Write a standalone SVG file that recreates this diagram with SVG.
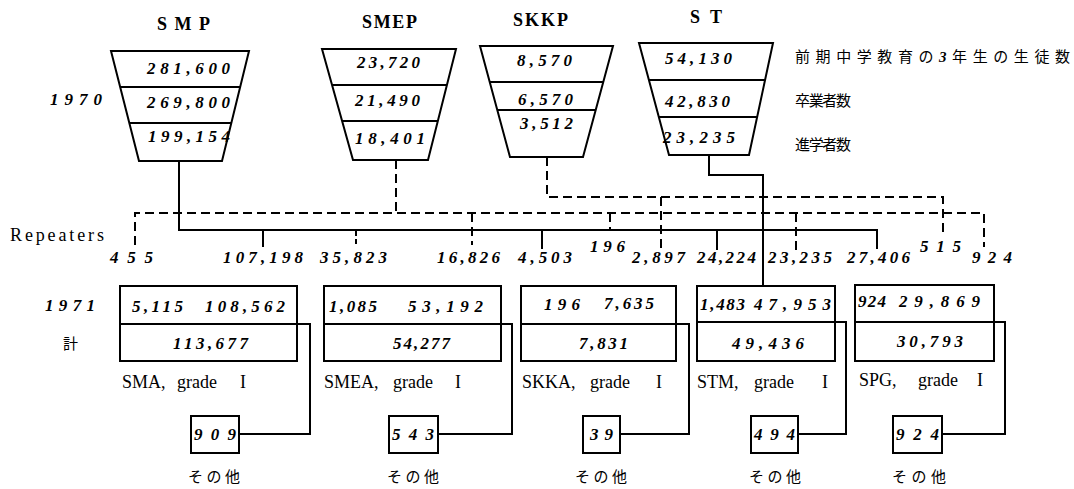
<svg xmlns="http://www.w3.org/2000/svg" width="1074" height="489" viewBox="0 0 1074 489">
<style>
.shape{fill:none;stroke:#000;stroke-width:2}
.line{fill:none;stroke:#000;stroke-width:2}
.dash{fill:none;stroke:#000;stroke-width:2;stroke-dasharray:9 5}
.num{font-family:"Liberation Serif",serif;font-style:italic;font-weight:bold;font-size:17px;fill:#000}
.title{font-family:"Liberation Serif",serif;font-weight:bold;font-size:18px;fill:#000}
.lab{font-family:"Liberation Serif",serif;font-size:18px;fill:#000}
.jp{font-family:"Noto Sans CJK JP",sans-serif;font-size:15px;fill:#000}
</style>
<rect x="0" y="0" width="1074" height="489" fill="#fff"/>

<g id="legend">
<text class="jp" x="795" y="62" textLength="275" lengthAdjust="spacing">前期中学教育の<tspan font-family="Liberation Serif" font-style="italic" font-weight="bold">3</tspan>年生の生徒数</text>
<text class="jp" x="795" y="106" textLength="56" lengthAdjust="spacing">卒業者数</text>
<text class="jp" x="795" y="150" textLength="56" lengthAdjust="spacing">進学者数</text>
<text class="num" x="50" y="105" textLength="52" lengthAdjust="spacing">1970</text>
<text class="lab" x="10" y="241" textLength="94" lengthAdjust="spacing">Repeaters</text>
<text class="num" x="45" y="311" textLength="50" lengthAdjust="spacing">1971</text>
<text class="jp" x="63" y="349">計</text>
</g>

<g id="SMP">
<text class="title" x="157" y="30" textLength="53" lengthAdjust="spacing">SMP</text>
<polygon class="shape" points="111,51 249,51 222,161 139,161"/>
<line class="shape" x1="120.2" y1="87" x2="240.2" y2="87"/>
<line class="shape" x1="129.3" y1="123" x2="231.3" y2="123"/>
<text class="num" x="147" y="74" textLength="83" lengthAdjust="spacing">281,600</text>
<text class="num" x="147" y="108" textLength="83" lengthAdjust="spacing">269,800</text>
<text class="num" x="148" y="142" textLength="82" lengthAdjust="spacing">199,154</text>
</g>

<g id="SMEP">
<text class="title" x="362" y="28" textLength="55" lengthAdjust="spacing">SMEP</text>
<polygon class="shape" points="322,49 456,49 428,160 353,160"/>
<line class="shape" x1="332.1" y1="85" x2="446.9" y2="85"/>
<line class="shape" x1="342.1" y1="121" x2="437.8" y2="121"/>
<text class="num" x="357" y="68" textLength="63" lengthAdjust="spacing">23,720</text>
<text class="num" x="355" y="106" textLength="65" lengthAdjust="spacing">21,490</text>
<text class="num" x="355" y="144" textLength="70" lengthAdjust="spacing">18,401</text>
</g>

<g id="SKKP">
<text class="title" x="513" y="26" textLength="55" lengthAdjust="spacing">SKKP</text>
<polygon class="shape" points="480,46 613,46 583,157 510,157"/>
<line class="shape" x1="489.7" y1="82" x2="603.3" y2="82"/>
<line class="shape" x1="497.3" y1="110" x2="595.7" y2="110"/>
<text class="num" x="517" y="66" textLength="55" lengthAdjust="spacing">8,570</text>
<text class="num" x="518" y="105" textLength="55" lengthAdjust="spacing">6,570</text>
<text class="num" x="520" y="129" textLength="53" lengthAdjust="spacing">3,512</text>
</g>

<g id="ST">
<text class="title" x="690" y="23" textLength="32" lengthAdjust="spacing">ST</text>
<polygon class="shape" points="639,43 773,43 749,155 669,155"/>
<line class="shape" x1="648.9" y1="80" x2="765.1" y2="80"/>
<line class="shape" x1="658.8" y1="117" x2="757.1" y2="117"/>
<text class="num" x="665" y="64" textLength="67" lengthAdjust="spacing">54,130</text>
<text class="num" x="665" y="107" textLength="65" lengthAdjust="spacing">42,830</text>
<text class="num" x="663" y="143" textLength="72" lengthAdjust="spacing">23,235</text>
</g>

<g id="connectors">
<path class="line" d="M179,161 V230 H877 V249 M263,230 V247 M542,230 V249 M717,230 V250 M709,155 V175 H763 V286"/>
<path class="dash" d="M396,160 V213 M135,245 V213 H984 V247 M472,213 V245 M610,213 V230 M796,213 V250 M547,157 V197 H943 V237 M661,197 V250"/>
<path class="line" style="stroke-dasharray:5 3" d="M356,231 V247"/>
<path class="line" d="M297,324 H310 V434 H239 M501,324 H512 V434 H438 M676,324 H689 V434 H620 M835,322 H846 V434 H798 M994,322 H1005 V434 H942"/>
</g>

<g id="repeater-labels">
<text class="num" x="110" y="263" textLength="43" lengthAdjust="spacing">455</text>
<text class="num" x="223" y="263" textLength="80" lengthAdjust="spacing">107,198</text>
<text class="num" x="320" y="263" textLength="67" lengthAdjust="spacing">35,823</text>
<text class="num" x="437" y="263" textLength="63" lengthAdjust="spacing">16,826</text>
<text class="num" x="518" y="263" textLength="54" lengthAdjust="spacing">4,503</text>
<text class="num" x="590" y="252" textLength="35" lengthAdjust="spacing">196</text>
<text class="num" x="632" y="263" textLength="53" lengthAdjust="spacing">2,897</text>
<text class="num" x="697" y="263" textLength="59" lengthAdjust="spacing">24,224</text>
<text class="num" x="768" y="263" textLength="64" lengthAdjust="spacing">23,235</text>
<text class="num" x="847" y="263" textLength="63" lengthAdjust="spacing">27,406</text>
<text class="num" x="920" y="252" textLength="41" lengthAdjust="spacing">515</text>
<text class="num" x="972" y="263" textLength="40" lengthAdjust="spacing">924</text>
</g>

<g id="SMA">
<rect class="shape" x="120" y="286" width="177" height="75"/>
<line class="shape" x1="120" y1="324" x2="297" y2="324"/>
<text class="num" x="132" y="312" textLength="51" lengthAdjust="spacing">5,115</text>
<text class="num" x="205" y="312" textLength="80" lengthAdjust="spacing">108,562</text>
<text class="num" x="173" y="349" textLength="75" lengthAdjust="spacing">113,677</text>
<text class="lab" y="388"><tspan x="122">SMA,</tspan><tspan x="177">grade</tspan><tspan x="240">I</tspan></text>
</g>
<g id="SMA-other">
<rect class="shape" x="191" y="416" width="48" height="37"/>
<text class="num" x="194" y="440" textLength="42" lengthAdjust="spacing">909</text>
<text class="jp" x="188" y="482" textLength="52" lengthAdjust="spacing">その他</text>
</g>

<g id="SMEA">
<rect class="shape" x="324" y="286" width="177" height="75"/>
<line class="shape" x1="324" y1="324" x2="501" y2="324"/>
<text class="num" x="329" y="312" textLength="48" lengthAdjust="spacing">1,085</text>
<text class="num" x="408" y="312" textLength="75" lengthAdjust="spacing">53,192</text>
<text class="num" x="393" y="349" textLength="57" lengthAdjust="spacing">54,277</text>
<text class="lab" y="388"><tspan x="324">SMEA,</tspan><tspan x="393">grade</tspan><tspan x="455">I</tspan></text>
</g>
<g id="SMEA-other">
<rect class="shape" x="389" y="416" width="49" height="37"/>
<text class="num" x="392" y="440" textLength="42" lengthAdjust="spacing">543</text>
<text class="jp" x="387" y="482" textLength="52" lengthAdjust="spacing">その他</text>
</g>

<g id="SKKA">
<rect class="shape" x="521" y="286" width="155" height="75"/>
<line class="shape" x1="521" y1="324" x2="676" y2="324"/>
<text class="num" x="544" y="310" textLength="36" lengthAdjust="spacing">196</text>
<text class="num" x="604" y="309" textLength="50" lengthAdjust="spacing">7,635</text>
<text class="num" x="579" y="349" textLength="49" lengthAdjust="spacing">7,831</text>
<text class="lab" y="388"><tspan x="522">SKKA,</tspan><tspan x="590">grade</tspan><tspan x="656">I</tspan></text>
</g>
<g id="SKKA-other">
<rect class="shape" x="583" y="416" width="37" height="37"/>
<text class="num" x="590" y="440" textLength="23" lengthAdjust="spacing">39</text>
<text class="jp" x="575" y="482" textLength="52" lengthAdjust="spacing">その他</text>
</g>

<g id="STM">
<rect class="shape" x="697" y="286" width="138" height="75"/>
<line class="shape" x1="697" y1="322" x2="835" y2="322"/>
<text class="num" x="700" y="310" textLength="45" lengthAdjust="spacing">1,483</text>
<text class="num" x="754" y="310" textLength="77" lengthAdjust="spacing">47,953</text>
<text class="num" x="732" y="349" textLength="72" lengthAdjust="spacing">49,436</text>
<text class="lab" y="388"><tspan x="697">STM,</tspan><tspan x="754">grade</tspan><tspan x="822">I</tspan></text>
</g>
<g id="STM-other">
<rect class="shape" x="751" y="416" width="47" height="37"/>
<text class="num" x="754" y="440" textLength="41" lengthAdjust="spacing">494</text>
<text class="jp" x="749" y="482" textLength="52" lengthAdjust="spacing">その他</text>
</g>

<g id="SPG">
<rect class="shape" x="855" y="285" width="139" height="76"/>
<line class="shape" x1="855" y1="322" x2="994" y2="322"/>
<text class="num" x="858" y="307" textLength="28" lengthAdjust="spacing">924</text>
<text class="num" x="899" y="307" textLength="81" lengthAdjust="spacing">29,869</text>
<text class="num" x="897" y="347" textLength="66" lengthAdjust="spacing">30,793</text>
<text class="lab" y="386"><tspan x="859">SPG,</tspan><tspan x="918">grade</tspan><tspan x="977">I</tspan></text>
</g>
<g id="SPG-other">
<rect class="shape" x="893" y="416" width="49" height="37"/>
<text class="num" x="896" y="440" textLength="43" lengthAdjust="spacing">924</text>
<text class="jp" x="892" y="482" textLength="54" lengthAdjust="spacing">その他</text>
</g>
</svg>
